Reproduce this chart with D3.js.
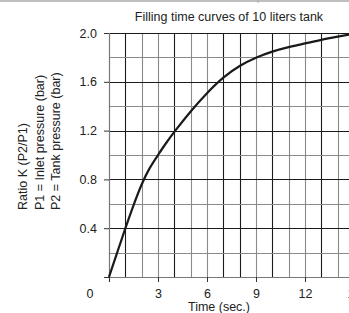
<!DOCTYPE html>
<html><head><meta charset="utf-8">
<script src="https://cdn.jsdelivr.net/npm/d3@7"></script>
<style>body{margin:0;background:#fff;}svg{display:block;font-family:"Liberation Sans",Arial,sans-serif;}</style>
</head><body>
<svg id="c" width="349" height="313"></svg>
<script>
const times = [0, 0.5, 1, 1.5, 2, 2.5, 3, 3.5, 4, 5, 6, 7, 8, 9, 10, 11, 12, 13, 14, 15];
const ratios = [0, 0.2, 0.4, 0.59, 0.765, 0.9, 1.0, 1.1, 1.19, 1.36, 1.51, 1.64, 1.735, 1.8, 1.85, 1.885, 1.915, 1.945, 1.97, 1.995];
const xTicks = [3, 6, 9, 12, 15];
const yTicks = [0.4, 0.8, 1.2, 1.6, 2.0];
const xGrid = d3.range(1, 16);
const yGrid = [0.2, 0.4, 0.6, 0.8, 1.0, 1.2, 1.4, 1.6, 1.8, 2.0];
const darkX = [1, 4, 7, 8, 10, 13];
const title = "Filling time curves of 10 liters tank";
const xTitle = "Time (sec.)";
const yTitles = ["Ratio K (P2/P1)", "P1 = Inlet pressure (bar)", "P2 = Tank pressure (bar)"];

const svg = d3.select("#c");
const x = d3.scaleLinear().domain([0, 15]).range([109, 354]);
const y = d3.scaleLinear().domain([0, 2]).range([277, 33]);
const FS = 12.5;
const FF = "Liberation Sans, Arial, sans-serif";

// top border artifact
svg.append("line").attr("x1", 0).attr("x2", 349).attr("y1", 1).attr("y2", 1).attr("stroke", "#aaa").attr("stroke-width", 1.5);
svg.append("line").attr("x1", 258).attr("x2", 258).attr("y1", 0).attr("y2", 3).attr("stroke", "#aaa").attr("stroke-width", 1);

// grid
svg.append("g").selectAll("line").data(xGrid).join("line")
  .attr("x1", d => Math.round(x(d)) + 0.5).attr("x2", d => Math.round(x(d)) + 0.5)
  .attr("y1", y(2)).attr("y2", y(0))
  .attr("stroke", d => darkX.includes(d) ? "#1a1a1a" : "#8a8a8a").attr("stroke-width", 1.1);
svg.append("g").selectAll("line").data(yGrid).join("line")
  .attr("x1", x(0)).attr("x2", x(15))
  .attr("y1", d => Math.round(y(d)) + 0.5).attr("y2", d => Math.round(y(d)) + 0.5)
  .attr("stroke", d => yTicks.includes(d) ? "#1a1a1a" : "#8a8a8a").attr("stroke-width", 1.1);

// axes
const yAxis = d3.axisLeft(y).tickValues([0].concat(yTicks)).tickSize(5).tickPadding(7)
  .tickFormat(d => d === 0 ? "" : d3.format(".1f")(d));
const gy = svg.append("g").attr("transform", `translate(${x(0)},0)`).call(yAxis);
gy.select(".domain").attr("stroke", "#777").attr("stroke-width", 1.2);
gy.selectAll(".tick line").attr("stroke", "#333");
gy.selectAll("text").attr("font-size", FS).attr("fill", "#222").attr("font-family", FF);

const xAxis = d3.axisBottom(x).tickValues([0].concat(xTicks)).tickSize(5).tickPadding(7)
  .tickFormat(d => d === 0 ? "" : d);
const gx = svg.append("g").attr("transform", `translate(0,${y(0)})`).call(xAxis);
gx.select(".domain").attr("stroke", "#777").attr("stroke-width", 1.2);
gx.selectAll(".tick line").attr("stroke", "#333");
gx.selectAll("text").attr("font-size", FS).attr("fill", "#222").attr("font-family", FF);

// origin "0" label
svg.append("text").attr("x", x(0) - 19).attr("y", y(0) + 20.5).attr("text-anchor", "middle")
  .attr("font-size", FS).attr("fill", "#222").text("0");

// curve
const line = d3.line().x((d, i) => x(times[i])).y(d => y(d)).curve(d3.curveBasis);
svg.append("path").datum(ratios).attr("d", line).attr("fill", "none")
  .attr("stroke", "#1a1a1a").attr("stroke-width", 2.2);

// titles
svg.append("text").attr("x", 229).attr("y", 20.5).attr("text-anchor", "middle")
  .attr("font-size", FS).attr("fill", "#222").text(title);
svg.append("text").attr("x", 219).attr("y", 310.5).attr("text-anchor", "middle")
  .attr("font-size", FS).attr("fill", "#222").text(xTitle);
const ytx = [27, 43.5, 60];
yTitles.forEach((t, i) => {
  svg.append("text").attr("transform", `translate(${ytx[i]},210) rotate(-90)`)
    .attr("font-size", FS).attr("fill", "#222").text(t);
});
</script>
</body></html>
